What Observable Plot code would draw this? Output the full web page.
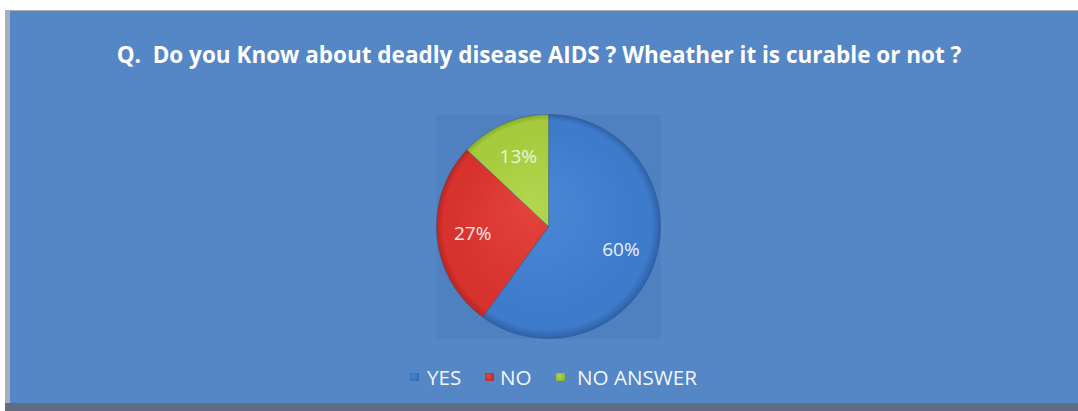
<!DOCTYPE html>
<html>
<head>
<meta charset="utf-8">
<script src="https://cdn.jsdelivr.net/npm/d3@7"></script>
<script src="https://cdn.jsdelivr.net/npm/@observablehq/plot@0.6"></script>
<style>
  html, body { margin: 0; padding: 0; background: #ffffff; width: 1078px; height: 411px; overflow: hidden; }
  #border { position: absolute; left: 5px; top: 10px; width: 1073px; height: 401px; background: #a7afbc; }
  #bottom { position: absolute; left: 5px; top: 403px; width: 1073px; height: 8px; background: #5f6d83; }
  #panel { position: absolute; left: 10px; top: 11px; width: 1068px; height: 392px; background: #5586C6; overflow: hidden; }
  #title { position: absolute; left: 0; top: 30px; width: 1058px; text-align: center; color: #ffffff; font-family: "Open Sans", sans-serif; font-weight: 700; white-space: pre; line-height: 28px; }
  #chart { position: absolute; left: 0; top: 89px; }
  #legend { position: absolute; top: 355px; left: 0; width: 1068px; height: 24px; color: #f4f7fc; font-family: "Open Sans", sans-serif; white-space: nowrap; }
  .sw { position: absolute; top: 7px; width: 9px; height: 8px; border-radius: 1px; }
  .lt { position: absolute; top: 0; line-height: 22px; }
</style>
</head>
<body>
<div id="border"></div>
<div id="bottom"></div>
<div id="panel">
  <div id="title"></div>
  <div id="chart"></div>
  <div id="legend"></div>
</div>
<script>
const titleText = "Q.  Do you Know about deadly disease AIDS ? Wheather it is curable or not ?";
const categories = ["YES", "NO", "NO ANSWER"];
const values = [60, 27, 13];
const labels = ["60%", "27%", "13%"];
const colors = ["#3F7BCB", "#D8322E", "#A5CB3C"];
const innerColors = ["#4A88D6", "#E2443C", "#B2D550"];
const edgeColors = ["#2E62AA", "#B52622", "#86AC2A"];
const labelColors = ["#eaf1fb", "#fbe6e4", "#eef5d8"];
// legend layout (x offsets inside the panel)
const legendSwatchX = [400, 475, 546];
const legendTextX = [417, 490, 567];

function fitSize(text, weight, targetWidth) {
  const c = document.createElement("canvas").getContext("2d");
  c.font = `${weight} 20px "Open Sans"`;
  const w = c.measureText(text).width;
  return 20 * targetWidth / w;
}
const title = document.getElementById("title");
title.textContent = titleText;
title.style.fontSize = fitSize(titleText, 700, 845).toFixed(2) + "px";

// pie geometry from data
const total = d3.sum(values);
let cum = 0;
const slices = values.map((v, i) => {
  const a0 = 2 * Math.PI * cum / total;
  cum += v;
  const a1 = 2 * Math.PI * cum / total;
  const n = Math.max(4, Math.ceil((a1 - a0) / 0.01));
  const ring = [[0, 0]];
  for (let k = 0; k <= n; k++) {
    const a = a0 + (a1 - a0) * k / n;
    ring.push([Math.sin(a), Math.cos(a)]);
  }
  ring.push([0, 0]);
  const am = (a0 + a1) / 2;
  return {
    type: "Feature",
    properties: { category: categories[i], value: v, label: labels[i], fill: `url(#grad${i})`,
      lx: 0.68 * Math.sin(am), ly: 0.68 * Math.cos(am), lc: labelColors[i] },
    geometry: { type: "Polygon", coordinates: [ring] }
  };
});
const square = { type: "Feature", properties: {}, geometry: { type: "Polygon", coordinates: [[[-1, -1], [1, -1], [1, 1], [-1, 1], [-1, -1]]] } };

const W = 1068, H = 250, mT = 14, mB = 12, mL = 8, mR = 0;
const plot = Plot.plot({
  width: W,
  height: H,
  marginTop: mT, marginBottom: mB, marginLeft: mL, marginRight: mR,
  projection: { type: "reflect-y", domain: square, inset: 0 },
  color: { type: "identity" },
  style: { background: "transparent", overflow: "visible" },
  marks: [
    Plot.geo([square], { fill: "#4F80BF", stroke: "none" }),
    Plot.geo(slices, { fill: d => d.properties.fill, stroke: "#2c4f80", strokeOpacity: 0.4, strokeWidth: 1 }),
    Plot.text(slices, {
      x: d => d.properties.lx, y: d => d.properties.ly, text: d => d.properties.label,
      fill: d => d.properties.lc, fontSize: 19, fontFamily: "Open Sans, sans-serif"
    })
  ]
});

const cx = mL + (W - mL - mR) / 2, cy = mT + (H - mT - mB) / 2, r = (H - mT - mB) / 2;
const ns = "http://www.w3.org/2000/svg";
const defs = document.createElementNS(ns, "defs");
colors.forEach((c, i) => {
  const g = document.createElementNS(ns, "radialGradient");
  g.setAttribute("id", "grad" + i);
  g.setAttribute("gradientUnits", "userSpaceOnUse");
  g.setAttribute("cx", cx); g.setAttribute("cy", cy); g.setAttribute("r", r);
  g.setAttribute("fx", cx - r * 0.15); g.setAttribute("fy", cy - r * 0.2);
  [[0, innerColors[i]], [0.8, c], [0.93, c], [1, edgeColors[i]]].forEach(([o, col]) => {
    const s = document.createElementNS(ns, "stop");
    s.setAttribute("offset", o); s.setAttribute("stop-color", col);
    g.appendChild(s);
  });
  defs.appendChild(g);
});
plot.insertBefore(defs, plot.firstChild);
document.getElementById("chart").appendChild(plot);

// legend
const legend = document.getElementById("legend");
legend.style.fontSize = fitSize("NO ANSWER", 400, 120).toFixed(2) + "px";
categories.forEach((cat, i) => {
  const sw = document.createElement("div");
  sw.className = "sw";
  sw.style.left = legendSwatchX[i] + "px";
  sw.style.background = `radial-gradient(circle at 40% 40%, ${innerColors[i]}, ${edgeColors[i]})`;
  const t = document.createElement("span");
  t.className = "lt";
  t.style.left = legendTextX[i] + "px";
  t.textContent = cat;
  legend.appendChild(sw);
  legend.appendChild(t);
});
</script>
</body>
</html>
